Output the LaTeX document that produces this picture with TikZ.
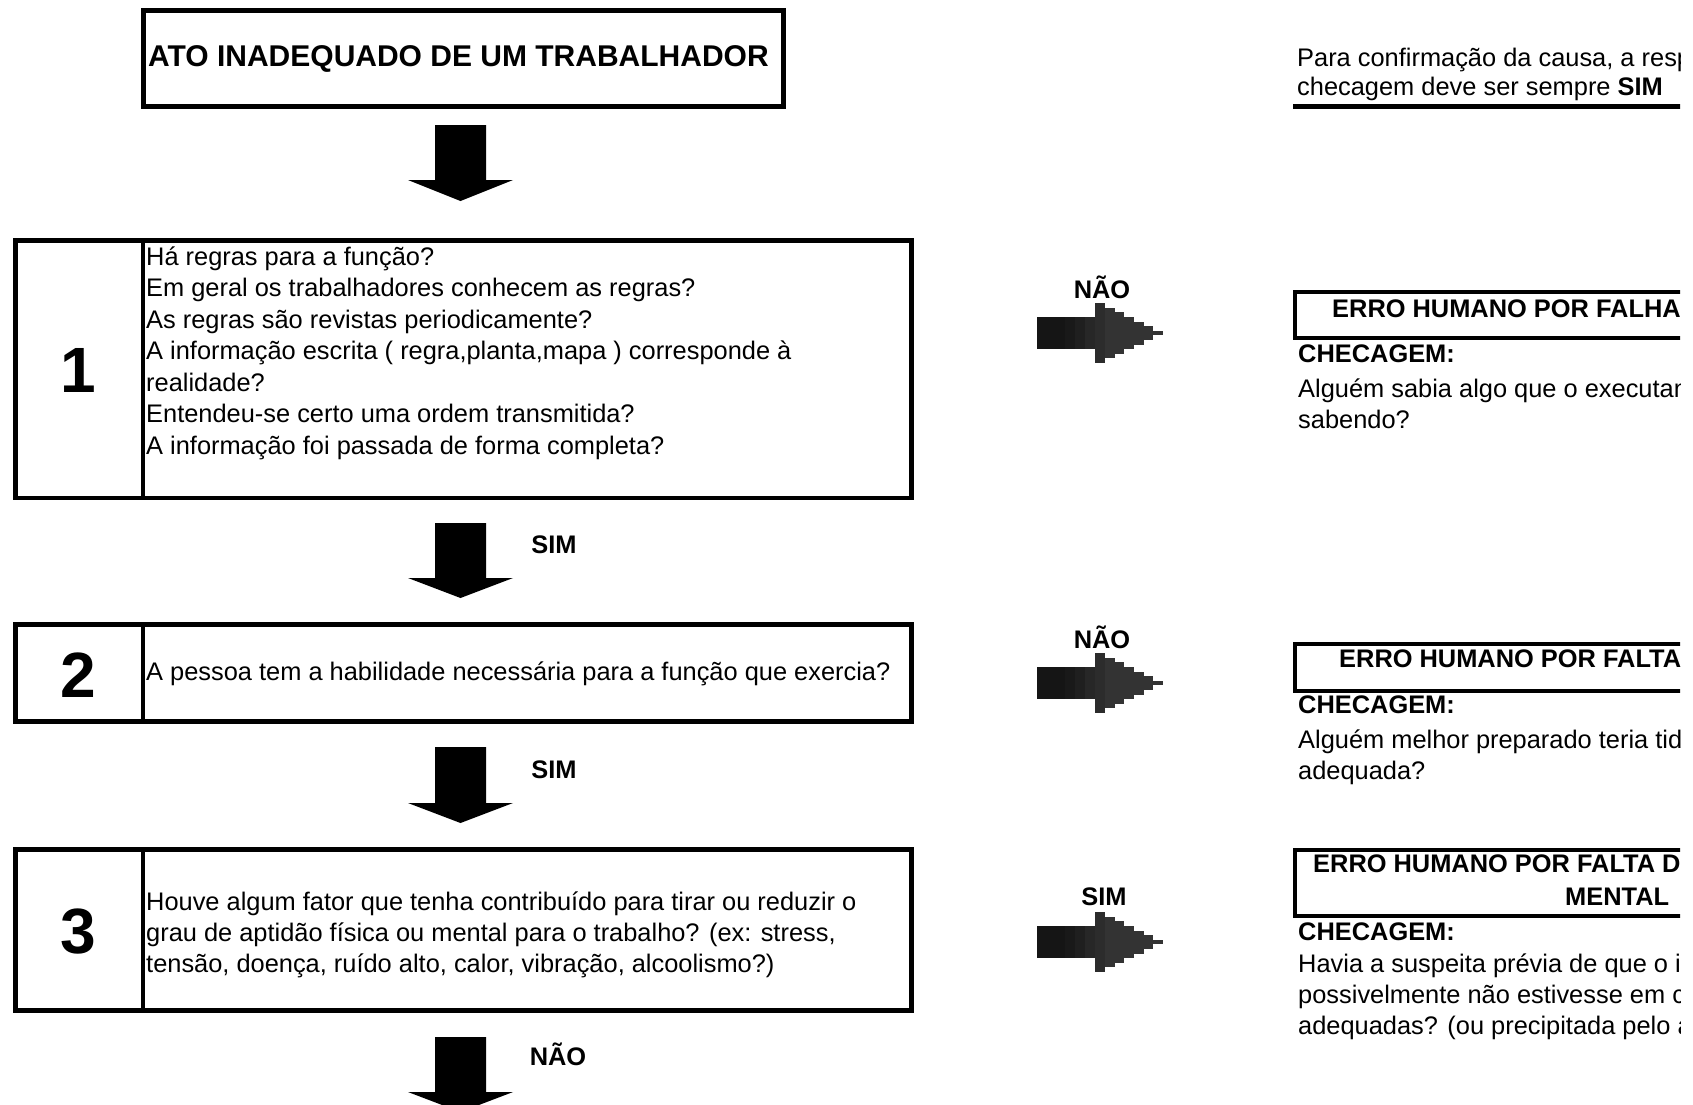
\documentclass[tikz,border=0pt]{standalone}
\usepackage{fontspec}
\setmainfont{Liberation Sans}
\definecolor{ga}{gray}{0.082}
\definecolor{gb}{gray}{0.098}
\definecolor{gc}{gray}{0.122}
\definecolor{gd}{gray}{0.153}
\definecolor{ge}{gray}{0.173}
\definecolor{gf}{gray}{0.2}
\newcommand\blockdown[3]{\fill[black] (435,#1) -- (486,#1) -- (486,#2) -- (513,#2) -- (460.5,#3) -- (408,#2) -- (435,#2) -- cycle;}
\newcommand\steparrow[1]{%
\begin{scope}[shift={(0,#1)}]
\fill[ga] (1037,-16) rectangle (1065,16);
\fill[gb] (1065,-16) rectangle (1075,16);
\fill[gc] (1075,-16) rectangle (1085,16);
\fill[gd] (1085,-16) rectangle (1095,16);
\fill[ge] (1095,-29.7) rectangle (1105,29.7);
\fill[gf] (1105,-25) rectangle (1115,25);
\fill[gf] (1114.8,-21) rectangle (1124,21);
\fill[gf] (1123.8,-16) rectangle (1134,16);
\fill[gf] (1133.8,-11.5) rectangle (1144,11.5);
\fill[gf] (1143.8,-7) rectangle (1153,7);
\fill[gf] (1152.8,-2) rectangle (1163,2);
\end{scope}}
\begin{document}
\begin{tikzpicture}[x=1pt,y=-1pt,
  boxline/.style={draw=black,line width=4.5pt},
  txt/.style={anchor=base west,inner sep=0pt,font=\fontsize{25.4}{30}\selectfont},
  btxt/.style={anchor=base west,inner sep=0pt,font=\fontsize{25.4}{30}\selectfont\bfseries},
  lbl/.style={anchor=base,inner sep=0pt,font=\fontsize{25.4}{30}\selectfont\bfseries},
  num/.style={anchor=base,inner sep=0pt,font=\fontsize{64}{70}\selectfont\bfseries},
  ttl/.style={anchor=base west,inner sep=0pt,font=\fontsize{30}{36}\selectfont\bfseries}]
\useasboundingbox (0,0) rectangle (1693,1104);
\fill[white] (0,0) rectangle (1693,1104);

% title
\node[boxline,rectangle,minimum width=640pt,minimum height=96pt,anchor=north west] (title) at (141,8) {};
\node[ttl] (titletext) at (148,66.7) {ATO INADEQUADO DE UM TRABALHADOR};
\blockdown{125}{180}{201}

% box 1
\node[boxline,rectangle,minimum width=896pt,minimum height=257.5pt,anchor=north west] (box1) at (13,238) {};
\draw[boxline] ([xshift=130pt]box1.north west) -- ([xshift=130pt]box1.south west);
\node[num] (n1) at (78,392) {1};
\node[txt] (l11) at (146,265) {Há regras para a função?};
\node[txt] (l12) at (146,296.5) {Em geral os trabalhadores conhecem as regras?};
\node[txt] (l13) at (146,328) {As regras são revistas periodicamente?};
\node[txt] (l14) at (146,359.5) {A informação escrita ( regra,planta,mapa ) corresponde à};
\node[txt] (l15) at (146,391) {realidade?};
\node[txt] (l16) at (146,422.5) {Entendeu-se certo uma ordem transmitida?};
\node[txt] (l17) at (146,454) {A informação foi passada de forma completa?};

\blockdown{523}{578}{598}
\node[lbl] (sim1) at (554,553) {SIM};

% box 2
\node[boxline,rectangle,minimum width=896pt,minimum height=97pt,anchor=north west] (box2) at (13,622) {};
\draw[boxline] ([xshift=130pt]box2.north west) -- ([xshift=130pt]box2.south west);
\node[num] (n2) at (78,697) {2};
\node[txt] (l21) at (146,680) {A pessoa tem a habilidade necessária para a função que exercia?};

\blockdown{747}{803}{823}
\node[lbl] (sim2) at (554,778) {SIM};

% box 3
\node[boxline,rectangle,minimum width=896pt,minimum height=161pt,anchor=north west] (box3) at (13,847) {};
\draw[boxline] ([xshift=130pt]box3.north west) -- ([xshift=130pt]box3.south west);
\node[num] (n3) at (78,953) {3};
\node[txt] (l31) at (146,910) {Houve algum fator que tenha contribuído para tirar ou reduzir o};
\node[txt] (l32) at (146,941) {grau de aptidão física ou mental para o trabalho? (ex: stress,};
\node[txt] (l33) at (146,972) {tensão, doença, ruído alto, calor, vibração, alcoolismo?)};

\blockdown{1037}{1092}{1112}
\node[lbl] (nao3) at (558,1065) {NÃO};

% right arrows
\steparrow{333}
\node[lbl] (naoR1) at (1102,298) {NÃO};
\steparrow{683}
\node[lbl] (naoR2) at (1102,648) {NÃO};
\steparrow{942}
\node[lbl] (simR3) at (1104,905) {SIM};

% right column (clipped at page edge)
\begin{scope}
\clip (0,0) rectangle (1680,1104);
\node[txt] (note1) at (1297,66) {Para confirmação da causa, a resposta};
\node[txt] (note2) at (1297,95.5) {checagem deve ser sempre \textbf{SIM}};
\draw[black,line width=5pt] (1293,106) -- (1760,106);

\draw[boxline] (1760,292) -- (1295,292) -- (1295,338) -- (1760,338);
\node[btxt] (h1) at (1332,317) {ERRO HUMANO POR FALHA};
\node[btxt] (c1) at (1298,362) {CHECAGEM:};
\node[txt] (t11) at (1298,397) {Alguém sabia algo que o executante};
\node[txt] (t12) at (1298,428) {sabendo?};

\draw[boxline] (1760,644) -- (1295,644) -- (1295,691) -- (1760,691);
\node[btxt] (h2) at (1339,667) {ERRO HUMANO POR FALTA};
\node[btxt] (c2) at (1298,713) {CHECAGEM:};
\node[txt] (t21) at (1298,748) {Alguém melhor preparado teria tido};
\node[txt] (t22) at (1298,779) {adequada?};

\draw[boxline] (1760,850) -- (1295,850) -- (1295,916) -- (1760,916);
\node[btxt] (h3) at (1313,872) {ERRO HUMANO POR FALTA DE};
\node[btxt] (h3b) at (1565,905) {MENTAL};
\node[btxt] (c3) at (1298,940) {CHECAGEM:};
\node[txt] (t31) at (1298,972) {Havia a suspeita prévia de que o indivíduo};
\node[txt] (t32) at (1298,1003) {possivelmente não estivesse em condições};
\node[txt] (t33) at (1298,1034) {adequadas? (ou precipitada pelo ambiente};
\end{scope}
\end{tikzpicture}
\end{document}
